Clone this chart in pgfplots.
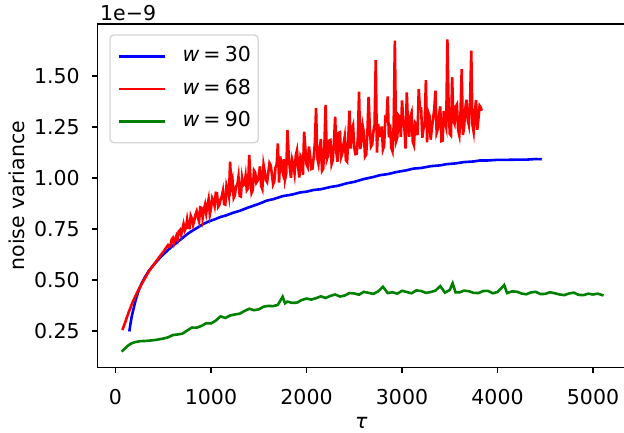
\documentclass[border=0pt]{standalone}
\usepackage{fontspec}
\setmainfont{DejaVu Sans}
\usepackage{pgfplots}
\pgfplotsset{compat=1.18}
\definecolor{mblue}{rgb}{0,0,1}
\definecolor{mred}{rgb}{1,0,0}
\definecolor{mgreen}{rgb}{0,0.5,0}
\begin{document}
\fontsize{20.5bp}{24bp}\selectfont
\begin{tikzpicture}
\begin{axis}[
  scale only axis, width=528.2bp, height=343.5bp,
  xmin=-190.6, xmax=5340, ymin=0.0711, ymax=1.7549,
  axis line style={line width=1.17bp},
  tick align=outside, major tick length=5.1bp,
  every tick/.style={black, line width=1.17bp},
  xtick pos=left, ytick pos=left,
  xtick={0,1000,2000,3000,4000,5000},
  xticklabels={0,1000,2000,3000,4000,5000},
  ytick={0.25,0.5,0.75,1.0,1.25,1.5},
  yticklabels={0.25,0.50,0.75,1.00,1.25,1.50},
  xticklabel style={anchor=base, inner sep=0pt, yshift=-31.5bp},
  yticklabel style={anchor=east, inner sep=0pt, xshift=-12.3bp},
  xlabel={\textit{τ}},
  ylabel={noise variance},
  xlabel style={at={(axis description cs:0.5,0)}, anchor=base, inner sep=0pt, yshift=-60.5bp},
  ylabel style={at={(axis description cs:-0.1369,0.5)}, anchor=base, inner sep=0pt},
  legend style={at={(axis description cs:0,1)}, anchor=north west, xshift=12bp, yshift=-10.3bp,
    draw=black!16, line width=1.4bp, rounded corners=4bp, fill=white,
    inner xsep=7.4bp, inner ysep=12bp, row sep=13.4bp,
    nodes={inner sep=0pt, text height=15bp, text depth=4bp},
    /tikz/every odd column/.append style={column sep=16bp}},
  legend cell align=left,
  legend image code/.code={\draw[#1] (0bp,0bp) -- (46.6bp,0bp);},
]
\addplot[mblue, line width=2.6bp] coordinates {
(145,0.248) (155,0.280) (170,0.322) (186,0.353) (210,0.400) (240,0.445) (274,0.484) (310,0.515)
(350,0.546) (414,0.582) (460,0.606) (500,0.625) (550,0.647) (588,0.663) (640,0.683) (680,0.698)
(720,0.713) (763,0.729) (820,0.746) (870,0.760) (920,0.775) (972,0.786) (1030,0.796) (1100,0.809)
(1160,0.817) (1234,0.830) (1300,0.839) (1400,0.857) (1500,0.873) (1583,0.889) (1650,0.896) (1750,0.911)
(1850,0.919) (1932,0.929) (2000,0.933) (2071,0.941) (2150,0.945) (2250,0.956) (2330,0.962) (2421,0.974)
(2500,0.981) (2600,0.995) (2700,1.005) (2770,1.014) (2850,1.019) (2950,1.030) (3050,1.038) (3118,1.046)
(3200,1.049) (3300,1.058) (3400,1.062) (3468,1.068) (3550,1.071) (3650,1.078) (3750,1.081) (3817,1.086)
(3900,1.086) (4000,1.089) (4100,1.089) (4200,1.090) (4300,1.090) (4400,1.093) (4463,1.092)
};
\addlegendentry{\textit{w}\hspace{0.2em}=\hspace{0.2em}30\hspace{3bp}}
\addplot[mred, line width=2.6bp] coordinates {
(72,0.255) (100,0.290) (134,0.337) (180,0.392) (239,0.451) (300,0.502) (350,0.543) (400,0.575)
(450,0.607) (500,0.638)
(550,0.671) (562.5,0.663) (575,0.666) (587.5,0.698) (600,0.706) (612.5,0.680) (625,0.700) (637.5,0.717)
(650,0.698) (662.5,0.738) (675,0.745) (687.5,0.721) (700,0.748) (712.5,0.774) (725,0.743) (737.5,0.756)
(750,0.796) (762.5,0.756) (775,0.755) (787.5,0.815) (800,0.800) (812.5,0.770) (825,0.791) (837.5,0.821)
(850,0.837) (862.5,0.807) (875,0.787) (887.5,0.856) (900,0.854) (912.5,0.804) (925,0.844) (937.5,0.869)
(950,0.827) (962.5,0.865) (975,0.896) (987.5,0.821) (1000,0.852) (1012.5,0.901) (1025,0.887) (1037.5,0.863)
(1050,0.927) (1062.5,0.926) (1075,0.859) (1087.5,0.868) (1100,0.895) (1112.5,0.909) (1125,0.937) (1137.5,0.872)
(1150,0.870) (1162.5,0.964) (1175,0.943) (1187.5,0.911) (1200,1.080) (1212.5,0.959) (1225,0.988) (1237.5,0.903)
(1250,0.916) (1262.5,0.961) (1275,0.965) (1287.5,1.006) (1300,0.912) (1312.5,0.909) (1325,1.000) (1337.5,0.964)
(1350,0.968) (1362.5,1.010) (1375,0.940) (1387.5,0.949) (1400,1.113) (1412.5,1.005) (1425,0.927) (1437.5,0.941)
(1450,1.037) (1462.5,1.028) (1475,0.977) (1487.5,0.986) (1500,1.012) (1512.5,1.057) (1525,0.962) (1537.5,0.946)
(1550,1.065) (1562.5,1.031) (1575,0.990) (1587.5,0.980) (1600,1.026) (1612.5,1.073) (1625,1.062) (1637.5,1.019)
(1650,0.969) (1662.5,0.984) (1675,1.051) (1687.5,1.066) (1700,1.170) (1712.5,0.977) (1725,1.106) (1737.5,1.054)
(1750,1.029) (1762.5,1.092) (1775,0.992) (1787.5,1.021) (1800,1.235) (1812.5,1.122) (1825,1.048) (1837.5,1.001)
(1850,1.088) (1862.5,1.063) (1875,1.022) (1887.5,1.110) (1900,1.135) (1912.5,1.051) (1925,1.002) (1937.5,1.107)
(1950,1.095) (1962.5,1.016) (1975,1.227) (1987.5,1.147) (2000,1.068) (2012.5,1.054) (2025,1.154) (2037.5,1.111)
(2050,1.044) (2062.5,1.046) (2075,1.101) (2087.5,1.172) (2100,1.343) (2112.5,1.099) (2125,1.070) (2137.5,1.134)
(2150,1.191) (2162.5,1.036) (2175,1.046) (2187.5,1.165) (2200,1.358) (2212.5,1.091) (2225,1.109) (2237.5,1.183)
(2250,1.186) (2262.5,1.068) (2275,1.087) (2287.5,1.178) (2300,1.300) (2312.5,1.126) (2325,1.080) (2337.5,1.221)
(2350,1.224) (2362.5,1.103) (2375,1.122) (2387.5,1.166) (2400,1.202) (2412.5,1.087) (2425,1.080) (2437.5,1.199)
(2450,1.330) (2462.5,1.144) (2475,1.239) (2487.5,1.258) (2500,1.150) (2512.5,1.117) (2525,1.119) (2537.5,1.198)
(2550,1.423) (2562.5,1.142) (2575,1.178) (2587.5,1.257) (2600,1.224) (2612.5,1.105) (2625,1.115) (2637.5,1.220)
(2650,1.398) (2662.5,1.248) (2675,1.154) (2687.5,1.164) (2700,1.226) (2712.5,1.262) (2725,1.578) (2737.5,1.125)
(2750,1.266) (2762.5,1.206) (2775,1.208) (2787.5,1.253) (2800,1.140) (2812.5,1.158) (2825,1.292) (2837.5,1.284)
(2850,1.400) (2862.5,1.199) (2875,1.262) (2887.5,1.148) (2900,1.131) (2912.5,1.257) (2925,1.673) (2937.5,1.179)
(2950,1.198) (2962.5,1.307) (2975,1.299) (2987.5,1.202) (3000,1.380) (3012.5,1.285) (3025,1.242) (3037.5,1.144)
(3050,1.420) (3062.5,1.254) (3075,1.202) (3087.5,1.302) (3100,1.321) (3112.5,1.178) (3125,1.161) (3137.5,1.271)
(3150,1.263) (3162.5,1.210) (3175,1.436) (3187.5,1.339) (3200,1.340) (3212.5,1.197) (3225,1.244) (3237.5,1.263)
(3250,1.480) (3262.5,1.175) (3275,1.321) (3287.5,1.304) (3300,1.188) (3312.5,1.243) (3325,1.290) (3337.5,1.336)
(3350,1.428) (3362.5,1.221) (3375,1.240) (3387.5,1.305) (3400,1.351) (3412.5,1.181) (3425,1.183) (3437.5,1.328)
(3450,1.275) (3462.5,1.249) (3475,1.680) (3487.5,1.360) (3500,1.217) (3512.5,1.209) (3525,1.494) (3537.5,1.284)
(3550,1.267) (3562.5,1.349) (3575,1.360) (3587.5,1.235) (3600,1.209) (3612.5,1.318) (3625,1.533) (3637.5,1.211)
(3650,1.248) (3662.5,1.338) (3675,1.384) (3687.5,1.285) (3700,1.259) (3712.5,1.368) (3725,1.624) (3737.5,1.261)
(3750,1.226) (3762.5,1.316) (3775,1.382) (3787.5,1.236) (3800,1.291) (3812.5,1.354) (3825,1.345) (3834,1.330)
};
\addlegendentry{\textit{w}\hspace{0.2em}=\hspace{0.2em}68\hspace{3bp}}
\addplot[mgreen, line width=2.6bp] coordinates {
(65,0.149) (100,0.165) (135,0.180) (170,0.190) (210,0.196) (256,0.200) (300,0.201) (361,0.203)
(430,0.207) (500,0.213) (550,0.219) (600,0.230) (650,0.233) (700,0.237) (750,0.252) (800,0.267)
(850,0.266) (900,0.275) (950,0.288) (1000,0.287) (1050,0.301) (1100,0.322) (1150,0.314) (1200,0.326)
(1250,0.331) (1300,0.335) (1350,0.348) (1400,0.359) (1450,0.352) (1500,0.356) (1550,0.369) (1600,0.373)
(1650,0.372) (1700,0.378) (1750,0.418) (1775,0.386) (1800,0.394) (1850,0.388) (1900,0.389) (1950,0.402)
(2000,0.409) (2050,0.404) (2100,0.411) (2150,0.420) (2200,0.412) (2250,0.422) (2300,0.429) (2350,0.419)
(2400,0.424) (2450,0.436) (2500,0.434) (2550,0.428) (2600,0.442) (2650,0.437) (2700,0.432) (2750,0.444)
(2800,0.467) (2850,0.436) (2900,0.440) (2950,0.433) (3000,0.447) (3050,0.441) (3100,0.435) (3150,0.449)
(3200,0.446) (3250,0.437) (3300,0.441) (3350,0.448) (3400,0.470) (3450,0.438) (3500,0.451) (3530,0.484)
(3560,0.440) (3600,0.439) (3650,0.448) (3700,0.445) (3750,0.437) (3800,0.436) (3850,0.446) (3900,0.447)
(3950,0.435) (4000,0.441) (4070,0.475) (4100,0.436) (4150,0.444) (4200,0.443) (4250,0.434) (4300,0.430)
(4350,0.439) (4400,0.442) (4450,0.431) (4500,0.432) (4550,0.440) (4600,0.435) (4650,0.429) (4700,0.426)
(4750,0.434) (4800,0.438) (4850,0.427) (4900,0.426) (4950,0.433) (5000,0.429) (5050,0.433) (5110,0.424)
};
\addlegendentry{\textit{w}\hspace{0.2em}=\hspace{0.2em}90\hspace{3bp}}
\end{axis}
\node[anchor=base west, inner sep=0pt] at (2.7bp,347bp) {1e−9};
\pgfresetboundingbox
\path[use as bounding box] (-97.3bp,-65.5bp) rectangle (526.7bp,367.5bp);
\end{tikzpicture}
\end{document}
